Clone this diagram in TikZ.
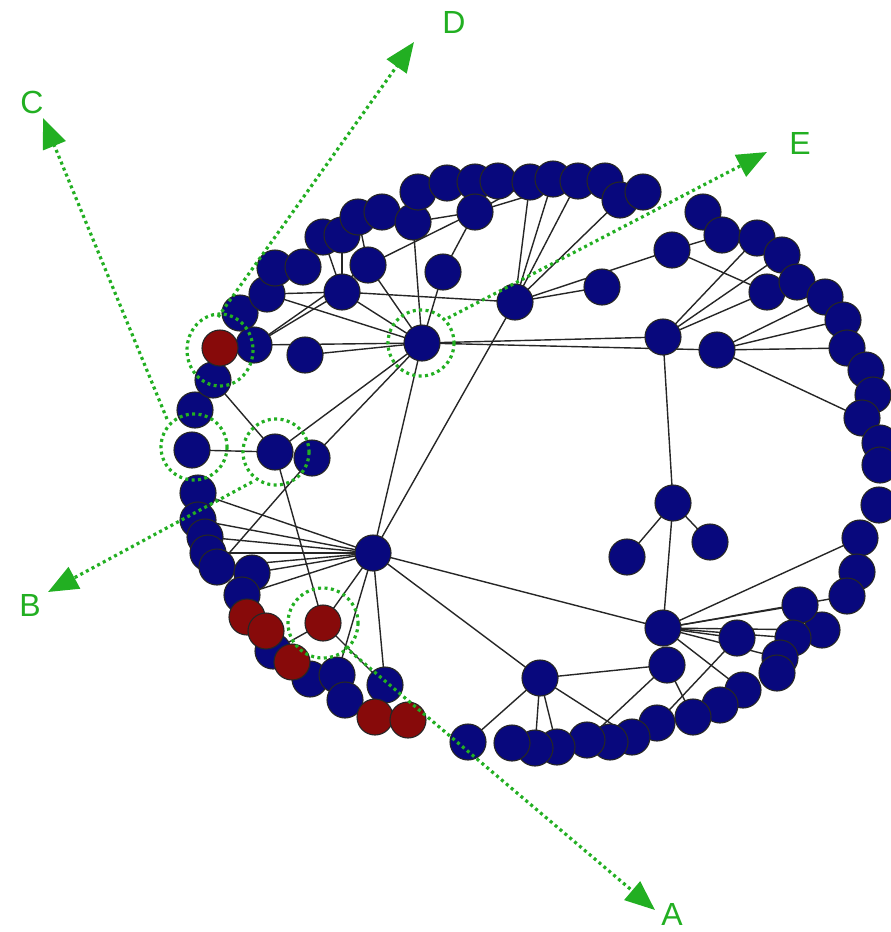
\documentclass[tikz,border=0pt]{standalone}
\usepackage{fontspec}
\newfontfamily\labfont{Liberation Sans}
\usetikzlibrary{arrows.meta}
\definecolor{nblue}{RGB}{8,8,125}
\definecolor{nred}{RGB}{135,10,10}
\definecolor{ngreen}{RGB}{34,175,34}
\pgfdeclarelayer{bg}
\pgfsetlayers{bg,main}
\begin{document}
\begin{tikzpicture}[x=1pt,y=-1pt,
  bn/.style={circle,draw=black!85,line width=1.1pt,fill=nblue,minimum size=36pt,inner sep=0pt},
  rn/.style={bn,fill=nred},
  edge/.style={black!85,line width=1.4pt},
  gdot/.style={ngreen,line width=3.2pt,dash pattern=on 3pt off 3.4pt},
  garrow/.style={gdot,-{Triangle[length=30pt,width=24pt]}},
  glabel/.style={text=ngreen,font=\labfont\fontsize{32}{32}\selectfont,inner sep=0pt}]
\useasboundingbox (0,0) rectangle (891,932);
% blue nodes
\foreach \n/\x/\y in {
 n2/195/410, n3/213/380, n4/240/313, n5/254/345, n6/267/294, n7/275/268, n8/303/267,
 n9/323/237, n10/342/235, n11/358/217, n12/382/212, n13/413/222, n14/418/192,
 n15/447/183, n16/475/182, n17/498/181, n18/530/182, n19/553/179, n20/578/181,
 n21/605/181, n22/620/200, n23/643/192, n24/475/212,
 n25/703/212, n26/722/235, n27/757/238, n28/782/255, n29/767/292, n30/797/282,
 n31/825/297, n32/843/320, n33/847/348, n34/866/370, n35/873/395, n36/862/418,
 n37/880/443, n38/880/465, n39/879/505, n40/860/538, n41/857/572, n42/847/596,
 n43/822/630, n44/800/605, n45/793/638, n46/780/658, n47/777/673, n48/743/690,
 n49/720/705, n50/693/717, n51/657/723, n52/632/737, n53/610/742, n54/587/740,
 n55/557/747, n56/535/748, n57/512/743, n58/468/742,
 n1/192/450, n59/198/493, n60/198/520, n61/205/537, n62/208/553, n63/217/567,
 n64/252/573, n65/242/595, n66/273/651, n67/310/679, n68/337/675, n69/345/700,
 n70/385/685,
 n71/305/355, n72/342/292, n73/368/265, n74/443/272, hE/422/343, h2/515/302,
 n75/602/287, n76/672/250, h3/663/337, n77/717/350, n78/673/503, n79/627/557,
 n80/710/542, h4/663/628, n81/667/665, n82/737/638, h5/540/678, hB/373/553,
 n83/275/452, n84/312/458}
 {\node[bn] (\n) at (\x,\y) {};}
% red nodes
\node[rn] (r1) at (220,348) {};
\node[rn] (r2) at (247,617) {};
\node[rn] (r3) at (266,631) {};
\node[rn] (r4) at (292,662) {};
\node[rn] (r5) at (375,717) {};
\node[rn] (r6) at (408,720) {};
\node[rn] (r7) at (323,623) {};
% edges
\begin{pgfonlayer}{bg}
\foreach \a/\b in {
 hE/n13, hE/n74, hE/n73, hE/n72, hE/n6, hE/n5, hE/n71, hE/n83, hE/n84, hE/hB, hE/h3, hE/n77,
 n24/n74, n24/n73, n24/n13, n24/n18, n24/n20, n11/n73, n10/n72, n9/n72, n6/n72,
 n5/n72, n5/n73, n72/h2, n3/n83, n1/n83,
 h2/n18, h2/n19, h2/n20, h2/n22, h2/n75, h2/n76, h2/hB,
 n76/n26, n76/n29, h3/n27, h3/n28, h3/n29, h3/n78,
 n77/n31, n77/n32, n77/n33, n77/n36,
 n78/n79, n78/n80, n78/h4,
 h4/hB, h4/n44, h4/n82, h4/n43, h4/n45, h4/n46, h4/n48, h4/n40, h4/n42,
 n81/h5, n81/n54, n81/n50, n51/n82,
 h5/hB, h5/n58, h5/n56, h5/n55, h5/n52,
 hB/n59, hB/n60, hB/n61, hB/n62, hB/n63, hB/n64, hB/n65, hB/r7, hB/n68, hB/n70,
 n63/n84, n83/r7, r7/n70, r7/n66}
 {\draw[edge] (\a.center) -- (\b.center);}
\end{pgfonlayer}
% green annotations
\draw[gdot] (220,350) ellipse [x radius=33, y radius=36];
\draw[gdot] (194,447) circle [radius=33];
\draw[gdot] (276,452) circle [radius=33];
\draw[gdot] (421,343) circle [radius=33];
\draw[gdot] (323,623) circle [radius=35];
\coordinate (tA) at (655,910);
\coordinate (tB) at (48,592);
\coordinate (tC) at (43,118);
\coordinate (tD) at (414,42);
\coordinate (tE) at (767,152);
\coordinate (sA) at (345,647);
\coordinate (sB) at (252,482);
\coordinate (sC) at (167,419);
\coordinate (sD) at (218,317);
\coordinate (sE) at (448,318);
\draw[garrow] (sA) -- (tA);
\draw[garrow] (sB) -- (tB);
\draw[garrow] (sC) -- (tC);
\draw[garrow] (sD) -- (tD);
\draw[garrow] (sE) -- (tE);
\node[glabel] (lA) at (672,914) {A};
\node[glabel] (lB) at (30,605) {B};
\node[glabel] (lC) at (32,102) {C};
\node[glabel] (lD) at (454,22) {D};
\node[glabel] (lE) at (800,143) {E};
\end{tikzpicture}
\end{document}
